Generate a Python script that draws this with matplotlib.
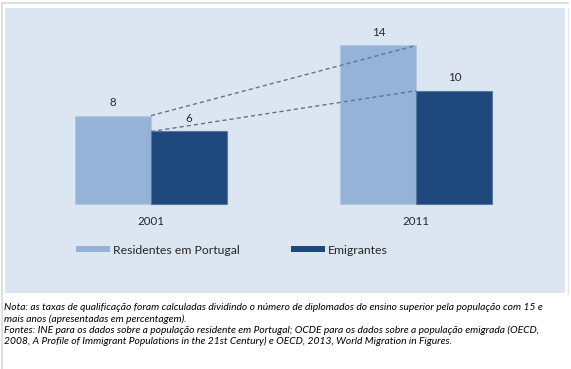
import matplotlib
matplotlib.use("Agg")
import matplotlib.pyplot as plt
from matplotlib.patches import Patch
from matplotlib.lines import Line2D

# ---- data ----
categories = ["2001", "2011"]
residentes = [7.8, 14.0]
emigrantes = [6.4, 10.0]
value_labels_res = ["8", "14"]
value_labels_emi = ["6", "10"]
series_names = ["Residentes em Portugal", "Emigrantes"]
note_lines = [
    "Nota: as taxas de qualificação foram calculadas dividindo o número de diplomados do ensino superior pela população com 15 e",
    "mais anos (apresentadas em percentagem).",
    "Fontes: INE para os dados sobre a população residente em Portugal; OCDE para os dados sobre a população emigrada (OECD,",
    "2008, A Profile of Immigrant Populations in the 21st Century) e OECD, 2013, World Migration in Figures.",
]

# ---- style ----
C_LIGHT = "#95b3d7"
C_DARK = "#1f497d"
C_PANEL = "#dce6f2"
FONT = "Lato"
plt.rcParams["font.family"] = [FONT, "DejaVu Sans"]

W, H = 571, 369
fig = plt.figure(figsize=(W / 100, H / 100), dpi=100)
fig.patch.set_facecolor("white")


def px(x, y):
    return x / W, 1 - y / H


frame_col = "#d9d9d9"
fig.add_artist(Line2D([px(2, 0)[0], px(568, 0)[0]], [px(0, 2.5)[1]] * 2, color=frame_col, lw=1.2))
fig.add_artist(Line2D([px(2, 0)[0]] * 2, [px(0, 2.5)[1], px(0, 369)[1]], color=frame_col, lw=1.2))
fig.add_artist(Line2D([px(568, 0)[0]] * 2, [px(0, 8)[1], px(0, 293)[1]], color="#e4e4e4", lw=1.0))

# panel axes
left, right, top, bottom = 5, 565, 8, 293
ax = fig.add_axes([left / W, 1 - bottom / H, (right - left) / W, (bottom - top) / H])
ax.set_facecolor(C_PANEL)
for s in ax.spines.values():
    s.set_visible(False)
ax.set_xticks([])
ax.set_yticks([])

ppu_y = 11.33
base = 204
ax.set_ylim(-(bottom - base) / ppu_y, (base - top) / ppu_y)
c0, c1 = 151, 416.3
ppu_x = c1 - c0
ax.set_xlim(-(c0 - left) / ppu_x, 1 + (right - c1) / ppu_x)
bw = 76 / ppu_x

xs = list(range(len(categories)))
ax.bar([x - bw / 2 for x in xs], residentes, width=bw, color=C_LIGHT,
       edgecolor="#b3c8e2", linewidth=0.8, zorder=2)
ax.bar([x + bw / 2 for x in xs], emigrantes, width=bw, color=C_DARK,
       edgecolor="#5a78a0", linewidth=0.8, zorder=2)

ax.plot(xs, residentes, ls=(0, (3, 2.2)), color="#5d7496", lw=1.0, zorder=3)
ax.plot(xs, emigrantes, ls=(0, (3, 2.2)), color="#5d7496", lw=1.0, zorder=3)

for x, v, t in zip(xs, residentes, value_labels_res):
    ax.annotate(t, (x - bw / 2, v), xytext=(0, 9.5), textcoords="offset points",
                ha="center", va="center", fontsize=8.3, color="#262626")
for x, v, t in zip(xs, emigrantes, value_labels_emi):
    ax.annotate(t, (x + bw / 2, v), xytext=(0, 9.5), textcoords="offset points",
                ha="center", va="center", fontsize=8.3, color="#262626")

for x, c in zip(xs, categories):
    ax.annotate(c, (x, 0), xytext=(0, -12.7), textcoords="offset points",
                ha="center", va="center", fontsize=8.3, color="#262626")

handles = [Patch(facecolor=C_LIGHT, edgecolor="none"), Patch(facecolor=C_DARK, edgecolor="none")]
leg = ax.legend(handles, series_names, ncol=2, frameon=False, fontsize=8.8,
                loc="center left", bbox_to_anchor=((76 - left) / (right - left), (bottom - 250) / (bottom - top)),
                handlelength=2.78, handleheight=0.33, handletextpad=0.25, columnspacing=4.2,
                borderpad=0, borderaxespad=0)
for t in leg.get_texts():
    t.set_color("#262626")

ys = [307.5, 318.8, 330.2, 341.5]
for y, line in zip(ys, note_lines):
    fig.text(4 / W, 1 - y / H, line, fontsize=7.42, style="italic", color="black",
             ha="left", va="center")

fig.savefig("out.png", dpi=100, facecolor="white")
